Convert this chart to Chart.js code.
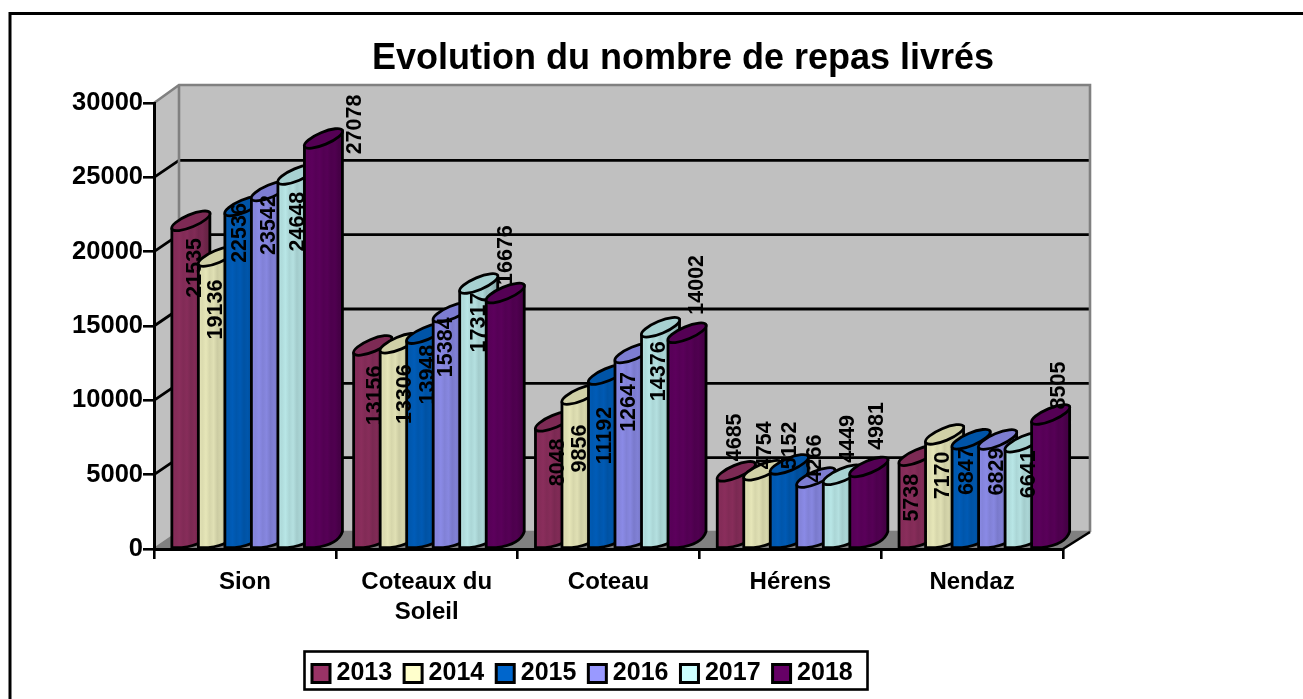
<!DOCTYPE html>
<html><head><meta charset="utf-8">
<style>html,body{margin:0;padding:0;background:#fff}#w{width:1303px;height:699px;position:relative}</style>
<script src="https://cdn.jsdelivr.net/npm/chart.js@4"></script>
</head><body><div id="w"><canvas id="c" width="1303" height="699"></canvas></div>
<script>
const categories = [["Sion"], ["Coteaux du", "Soleil"], ["Coteau"], ["Hérens"], ["Nendaz"]];
const years = ["2013", "2014", "2015", "2016", "2017", "2018"];
const v2013 = [21535, 13156, 8048, 4685, 5738];
const v2014 = [19136, 13306, 9856, 4754, 7170];
const v2015 = [22536, 13948, 11192, 5152, 6847];
const v2016 = [23542, 15384, 12647, 4266, 6829];
const v2017 = [24648, 17317, 14376, 4449, 6641];
const v2018 = [27078, 16676, 14002, 4981, 8505];
const seriesValues = [v2013, v2014, v2015, v2016, v2017, v2018];
const yTicks = [0, 5000, 10000, 15000, 20000, 25000, 30000];
const colors = ["#993366", "#FFFFCC", "#0066CC", "#9999FF", "#CCFFFF", "#660066"];

// hand placement of the value labels, relative to each bar's top-left corner
const labelDx = [[23,21,23,18,13],[17.5,24.5,18.5,21.5,17.5],[15,21,17,20,15],[17.5,12.5,14.5,18.5,18.5],[20,19,18,25,24],[50.5,19.5,29.5,27.5,27.5]];
const labelDy = [[39,42,33,-42,34],[45,43,46,-33,33],[19,33,53,-27,24],[26,27,41,-27,24],[39,31,36,-44,24],[-22,-46,-56,-49,-37]];

const FONT = '"Liberation Sans", Arial, sans-serif';
const DEPTH_X = 25, DEPTH_Y = 17, CYL_X = 38, CYL_Y = 16, SHIFT = 6.5;

function shade(hex, f) {
  const n = parseInt(hex.slice(1), 16);
  const c = [n >> 16, (n >> 8) & 255, n & 255].map(v => Math.round(v * f));
  return `rgb(${c[0]},${c[1]},${c[2]})`;
}

function cylinder(ctx, x0, top, base, col) {
  const w = CYL_X, h = CYL_Y;
  const cx = x0 + w / 2;
  const ang = Math.atan2(-h, w);
  const a = Math.hypot(w, h) / 2, b = 6.2;
  const g = ctx.createLinearGradient(x0, 0, x0 + w, 0);
  const stops = [[0,.9],[.1,.86],[.2,.9],[.3,.84],[.4,.88],[.5,.8],[.6,.84],[.7,.75],[.8,.78],[.9,.7],[1,.66]];
  stops.forEach(s => g.addColorStop(s[0], shade(col, s[1])));
  ctx.save();
  ctx.lineWidth = 2.8;
  ctx.strokeStyle = '#000';
  ctx.lineJoin = 'round';
  // body
  ctx.beginPath();
  ctx.moveTo(x0, top);
  ctx.lineTo(x0, base);
  ctx.lineTo(x0 + 10, base);
  ctx.quadraticCurveTo(x0 + w - 4, base - 3, x0 + w, base - h);
  ctx.lineTo(x0 + w, top - h);
  ctx.closePath();
  ctx.fillStyle = g;
  ctx.fill();
  ctx.stroke();
  // top ellipse
  ctx.beginPath();
  ctx.ellipse(cx, top - h / 2, a, b, ang, 0, Math.PI * 2);
  ctx.fillStyle = shade(col, .82);
  ctx.fill();
  ctx.stroke();
  ctx.restore();
}

const scenePlugin = {
  id: 'scene',
  afterLayout(chart) {
    chart.titleBlock.left = 63; chart.titleBlock.right = 1303;
    const l = chart.legend;
    l.left = 300; l.right = 300 + l.width; l.top = 643; l.bottom = 643 + l.height;
  },
  beforeDraw(chart) {
    const { ctx, chartArea: a, scales: { y } } = chart;
    const L = a.left, R = a.right, B = a.bottom, T = y.getPixelForValue(30000);
    ctx.save();
    // outer frame: its right and bottom sides fall outside the picture
    ctx.strokeStyle = '#000'; ctx.lineWidth = 3;
    ctx.beginPath(); ctx.moveTo(10, 710); ctx.lineTo(10, 13.5); ctx.lineTo(1320, 13.5); ctx.stroke();
    // side wall, back wall, floor
    ctx.fillStyle = '#c0c0c0';
    ctx.beginPath(); ctx.moveTo(L, B); ctx.lineTo(L + DEPTH_X, B - DEPTH_Y); ctx.lineTo(L + DEPTH_X, T - DEPTH_Y - 1); ctx.lineTo(L, T); ctx.closePath(); ctx.fill();
    ctx.fillRect(L + DEPTH_X, T - DEPTH_Y - 1, R - L + 2, B - T + 1);
    ctx.fillStyle = '#808080';
    ctx.beginPath(); ctx.moveTo(L, B); ctx.lineTo(L + DEPTH_X, B - DEPTH_Y); ctx.lineTo(R + DEPTH_X + 2, B - DEPTH_Y); ctx.lineTo(R, B); ctx.closePath(); ctx.fill();
    // grid lines
    yTicks.forEach(t => {
      const py = y.getPixelForValue(t);
      if (t > 0 && t < 30000) {
        ctx.strokeStyle = '#000'; ctx.lineWidth = 2.8;
        ctx.beginPath(); ctx.moveTo(L, py); ctx.lineTo(L + DEPTH_X, py - DEPTH_Y); ctx.lineTo(R + DEPTH_X + 1, py - DEPTH_Y); ctx.stroke();
      }
    });
    ctx.strokeStyle = '#808080'; ctx.lineWidth = 2.6;
    ctx.beginPath();
    ctx.moveTo(L, T); ctx.lineTo(L + DEPTH_X, T - DEPTH_Y - 1); ctx.lineTo(R + DEPTH_X + 2, T - DEPTH_Y - 1); ctx.lineTo(R + DEPTH_X + 2, B - DEPTH_Y);
    ctx.moveTo(L + DEPTH_X, T - DEPTH_Y - 1); ctx.lineTo(L + DEPTH_X, B - DEPTH_Y);
    ctx.moveTo(L, B); ctx.lineTo(L + DEPTH_X, B - DEPTH_Y); ctx.lineTo(R + DEPTH_X + 2, B - DEPTH_Y);
    ctx.stroke();
    ctx.strokeStyle = '#000';
    ctx.beginPath(); ctx.moveTo(R, B); ctx.lineTo(R + DEPTH_X + 2, B - DEPTH_Y); ctx.stroke();
    ctx.restore();
  },
  beforeDatasetsDraw(chart) {
    const ctx = chart.ctx;
    // later years sit in front of earlier ones
    seriesValues.forEach((vals, s) => {
      chart.getDatasetMeta(s).data.forEach(bar => {
        cylinder(ctx, bar.x - bar.width / 2 + SHIFT, bar.y, bar.base, colors[s]);
      });
    });
  },
  beforeDatasetDraw() { return false; },
  afterDatasetsDraw(chart) {
    const ctx = chart.ctx;
    ctx.save();
    ctx.fillStyle = '#000';
    ctx.font = 'bold 21.5px ' + FONT;
    ctx.textAlign = 'center';
    ctx.textBaseline = 'middle';
    seriesValues.forEach((vals, s) => {
      chart.getDatasetMeta(s).data.forEach((bar, i) => {
        const x0 = bar.x - bar.width / 2 + SHIFT;
        ctx.save();
        ctx.translate(x0 + labelDx[s][i], bar.y + labelDy[s][i]);
        ctx.rotate(-Math.PI / 2);
        ctx.fillText(String(vals[i]), 0, 0);
        ctx.restore();
      });
    });
    ctx.restore();
  },
  afterDraw(chart) {
    const ctx = chart.ctx;
    ctx.save();
    ctx.strokeStyle = '#000'; ctx.lineWidth = 2.6;
    ctx.strokeRect(304.5, 651.5, 563, 38);
    ctx.restore();
  }
};

new Chart(document.getElementById('c'), {
  type: 'bar',
  data: {
    labels: categories,
    datasets: years.map((yr, i) => ({
      label: yr,
      data: seriesValues[i],
      backgroundColor: colors[i],
      borderColor: '#000',
      borderWidth: 3
    }))
  },
  plugins: [scenePlugin],
  options: {
    responsive: false,
    animation: false,
    layout: { padding: { right: 240 } },
    categoryPercentage: 0.875,
    barPercentage: 1,
    plugins: {
      tooltip: { enabled: false },
      title: {
        display: true,
        text: 'Evolution du nombre de repas livrés',
        color: '#000',
        font: { family: FONT, size: 36, weight: 'bold', lineHeight: 1.2 },
        padding: { top: 37.4, bottom: 22.4 }
      },
      legend: {
        display: true,
        position: 'bottom',
        align: 'start',
        labels: {
          usePointStyle: true,
          pointStyle: 'rect',
          boxWidth: 6,
          boxHeight: 18,
          padding: 18,
          color: '#000',
          font: { family: FONT, size: 25, weight: 'bold' }
        }
      }
    },
    scales: {
      x: {
        afterFit(s) { s.height = 97; },
        border: { color: '#000', width: 3, z: 1 },
        grid: { drawOnChartArea: false, drawTicks: true, tickLength: 10, color: '#000', lineWidth: 2.6 },
        ticks: { color: '#000', maxRotation: 0, autoSkip: false, padding: 8, font: { family: FONT, size: 24, weight: 'bold', lineHeight: 1.25 } }
      },
      y: {
        min: 0, max: 30000,
        afterFit(s) { s.width = 154; },
        afterBuildTicks(s) { s.ticks = yTicks.map(v => ({ value: v })); },
        border: { color: '#000', width: 3, z: 1 },
        grid: { drawOnChartArea: false, drawTicks: true, tickLength: 11, color: '#000', lineWidth: 2.6 },
        ticks: { color: '#000', padding: 0, callback: v => String(v), font: { family: FONT, size: 25.5, weight: 'bold' } }
      }
    }
  }
});
</script></body></html>
